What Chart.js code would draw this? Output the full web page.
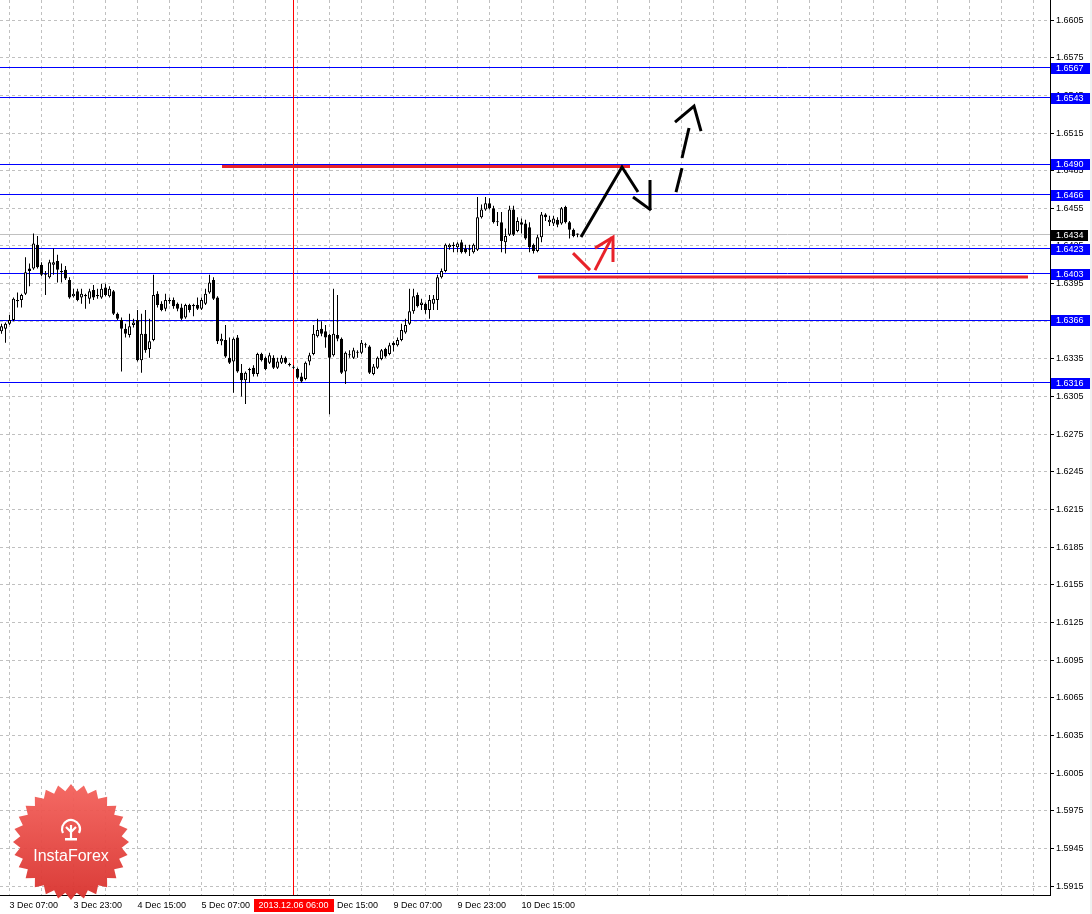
<!DOCTYPE html>
<html>
<head>
<meta charset="utf-8">
<script src="https://cdn.jsdelivr.net/npm/chart.js@4.4.1/dist/chart.umd.min.js"></script>
<style>
html,body{margin:0;padding:0;background:#fff;overflow:hidden;}
#wrap{width:1092px;height:914px;position:relative;}
</style>
</head>
<body>
<div id="wrap"><canvas id="c" width="1092" height="914"></canvas></div>
<script>
// ---- H1 candles, 3 Dec 2013 05:00 .. 11 Dec 2013 05:00 (bar index = array index) ----
const opens = [1.6357,1.6359,1.6363,1.6366,1.6381,1.6382,1.6387,1.6407,1.6407,1.6426,
1.6410,1.6403,1.6400,1.6410,1.6413,1.6405,1.6406,1.6398,1.6385,1.6389,
1.6384,1.6386,1.6383,1.6390,1.6386,1.6384,1.6392,1.6385,1.6389,1.6371,
1.6366,1.6359,1.6354,1.6362,1.6366,1.6334,1.6355,1.6343,1.6350,1.6387,
1.6379,1.6375,1.6382,1.6382,1.6379,1.6376,1.6368,1.6378,1.6378,1.6378,
1.6375,1.6379,1.6388,1.6398,1.6384,1.6349,1.6350,1.6336,1.6333,1.6352,
1.6324,1.6318,1.6327,1.6328,1.6323,1.6339,1.6336,1.6332,1.6336,1.6328,
1.6332,1.6336,1.6331,1.6328,1.6327,1.6321,1.6319,1.6333,1.6339,1.6353,
1.6359,1.6357,1.6354,1.6338,1.6354,1.6351,1.6325,1.6338,1.6336,1.6340,
1.6340,1.6346,1.6345,1.6323,1.6328,1.6335,1.6343,1.6339,1.6348,1.6346,
1.6350,1.6356,1.6363,1.6373,1.6386,1.6378,1.6379,1.6374,1.6379,1.6382,
1.6400,1.6405,1.6424,1.6426,1.6424,1.6428,1.6423,1.6422,1.6420,1.6422,
1.6448,1.6454,1.6459,1.6455,1.6444,1.6444,1.6428,1.6434,1.6454,1.6437,
1.6444,1.6443,1.6440,1.6426,1.6421,1.6432,1.6450,1.6444,1.6443,1.6446,
1.6443,1.6456,1.6444,1.6438,1.6435];
const highs = [1.6363,1.6364,1.6370,1.6384,1.6388,1.6387,1.6416,1.6411,1.6435,1.6433,
1.6412,1.6405,1.6414,1.6423,1.6418,1.6411,1.6409,1.6400,1.6391,1.6391,
1.6391,1.6387,1.6391,1.6394,1.6391,1.6395,1.6395,1.6393,1.6390,1.6372,
1.6368,1.6363,1.6371,1.6367,1.6374,1.6371,1.6374,1.6367,1.6402,1.6389,
1.6381,1.6387,1.6384,1.6384,1.6380,1.6379,1.6379,1.6379,1.6379,1.6384,
1.6384,1.6391,1.6402,1.6400,1.6385,1.6355,1.6362,1.6352,1.6352,1.6354,
1.6331,1.6325,1.6328,1.6330,1.6340,1.6340,1.6337,1.6340,1.6338,1.6336,
1.6338,1.6337,1.6332,1.6330,1.6328,1.6324,1.6333,1.6340,1.6362,1.6367,
1.6365,1.6362,1.6355,1.6391,1.6386,1.6352,1.6341,1.6342,1.6344,1.6342,
1.6350,1.6348,1.6346,1.6331,1.6337,1.6343,1.6344,1.6348,1.6349,1.6352,
1.6363,1.6367,1.6391,1.6391,1.6388,1.6383,1.6380,1.6386,1.6386,1.6402,
1.6407,1.6427,1.6427,1.6428,1.6428,1.6430,1.6426,1.6426,1.6427,1.6464,
1.6458,1.6464,1.6463,1.6457,1.6452,1.6452,1.6439,1.6457,1.6457,1.6448,
1.6447,1.6446,1.6444,1.6427,1.6434,1.6452,1.6451,1.6449,1.6449,1.6448,
1.6456,1.6457,1.6445,1.6439,1.6435];
const lows = [1.6355,1.6348,1.6362,1.6365,1.6376,1.6376,1.6386,1.6393,1.6406,1.6407,
1.6401,1.6386,1.6399,1.6402,1.6396,1.6396,1.6398,1.6383,1.6384,1.6381,
1.6379,1.6375,1.6379,1.6382,1.6383,1.6383,1.6385,1.6384,1.6370,1.6366,
1.6325,1.6352,1.6352,1.6360,1.6333,1.6324,1.6340,1.6336,1.6349,1.6376,
1.6373,1.6373,1.6379,1.6375,1.6373,1.6366,1.6367,1.6372,1.6369,1.6374,
1.6374,1.6378,1.6387,1.6382,1.6347,1.6346,1.6336,1.6331,1.6308,1.6324,
1.6305,1.6299,1.6316,1.6321,1.6321,1.6333,1.6326,1.6331,1.6327,1.6327,
1.6331,1.6331,1.6329,1.6327,1.6319,1.6316,1.6318,1.6330,1.6338,1.6352,
1.6353,1.6344,1.6291,1.6337,1.6349,1.6323,1.6315,1.6336,1.6335,1.6336,
1.6339,1.6344,1.6323,1.6322,1.6327,1.6334,1.6336,1.6338,1.6341,1.6345,
1.6349,1.6355,1.6362,1.6371,1.6376,1.6374,1.6371,1.6367,1.6374,1.6374,
1.6399,1.6404,1.6422,1.6420,1.6420,1.6419,1.6419,1.6417,1.6419,1.6421,
1.6447,1.6453,1.6454,1.6443,1.6441,1.6420,1.6419,1.6433,1.6433,1.6436,
1.6435,1.6430,1.6420,1.6419,1.6420,1.6428,1.6445,1.6441,1.6441,1.6440,
1.6442,1.6443,1.6431,1.6432,1.6432];
const closes = [1.6361,1.6363,1.6366,1.6383,1.6382,1.6386,1.6404,1.6405,1.6427,1.6408,
1.6402,1.6402,1.6412,1.6412,1.6406,1.6404,1.6399,1.6384,1.6387,1.6382,
1.6387,1.6385,1.6389,1.6384,1.6385,1.6391,1.6386,1.6391,1.6371,1.6367,
1.6359,1.6355,1.6361,1.6364,1.6334,1.6355,1.6342,1.6349,1.6386,1.6378,
1.6374,1.6382,1.6381,1.6377,1.6375,1.6367,1.6378,1.6374,1.6377,1.6375,
1.6382,1.6387,1.6396,1.6383,1.6349,1.6351,1.6337,1.6332,1.6351,1.6325,
1.6318,1.6324,1.6326,1.6323,1.6339,1.6334,1.6327,1.6338,1.6328,1.6333,
1.6336,1.6332,1.6330,1.6328,1.6320,1.6317,1.6332,1.6338,1.6355,1.6358,
1.6355,1.6352,1.6336,1.6355,1.6351,1.6324,1.6340,1.6338,1.6342,1.6340,
1.6348,1.6346,1.6324,1.6329,1.6336,1.6342,1.6337,1.6346,1.6346,1.6350,
1.6358,1.6362,1.6373,1.6385,1.6377,1.6380,1.6374,1.6382,1.6383,1.6400,
1.6405,1.6426,1.6426,1.6425,1.6427,1.6420,1.6420,1.6422,1.6426,1.6448,
1.6454,1.6459,1.6455,1.6444,1.6444,1.6429,1.6433,1.6454,1.6434,1.6445,
1.6442,1.6431,1.6424,1.6421,1.6432,1.6450,1.6448,1.6446,1.6447,1.6442,
1.6455,1.6444,1.6438,1.6433,1.6434];

// time axis: bar index of each label and its text
const timeTickBars = [2,18,34,50,66,82,98,114,130];
const timeTickLabels = ['3 Dec 07:00','3 Dec 23:00','4 Dec 15:00','5 Dec 07:00','5 Dec 23:00','6 Dec 15:00','9 Dec 07:00','9 Dec 23:00','10 Dec 15:00'];
const gridBarStep = 8;

// price axis ticks
const priceTicks = [1.6605,1.6575,1.6545,1.6515,1.6485,1.6455,1.6425,1.6395,1.6365,1.6335,1.6305,1.6275,
1.6245,1.6215,1.6185,1.6155,1.6125,1.6095,1.6065,1.6035,1.6005,1.5975,1.5945,1.5915];

// horizontal levels
const blueLevels = [1.6567,1.6543,1.6490,1.6466,1.6423,1.6403,1.6366,1.6316];
const bidPrice = 1.6434;
const cursorBar = 73;
const cursorLabel = '2013.12.06 06:00';

// drawn objects, in [bar index, price]
const redLevelLines = [
  [[55.125,1.64883],[157.125,1.64883]],
  [[134.125,1.64002],[256.625,1.64002]]
];
const blackArrow = [
  [[144.875,1.64321],[155.125,1.64879],[159.125,1.64680]],
  [[157.875,1.64640],[162.375,1.64536]],
  [[162.125,1.64775],[162.125,1.64536]],
  [[168.625,1.64680],[170.125,1.64871]],
  [[170.125,1.64951],[171.875,1.65190]],
  [[168.375,1.65237],[173.125,1.65365],[174.875,1.65166]]
];
const redArrow = [
  [[142.875,1.64193],[147.125,1.64058]],
  [[148.375,1.64058],[152.625,1.64321]],
  [[148.375,1.64233],[152.875,1.64321],[152.875,1.64122]]
];

const FONT = '"Liberation Sans", Arial, sans-serif';
Chart.defaults.font.family = FONT;
Chart.defaults.font.size = 9;
Chart.defaults.color = '#000';

const crisp = v => Math.round(v - 0.5) + 0.5;

function lineDs(seg, color, width, order) {
  return {
    type: 'line',
    data: seg.map(p => ({x: p[0], y: p[1]})),
    borderColor: color, borderWidth: width,
    pointRadius: 0, fill: false, tension: 0,
    borderCapStyle: 'butt', borderJoinStyle: 'miter',
    order: order
  };
}

const datasets = [
  {
    type: 'bar',
    data: lows.map((l, i) => ({x: i, y: [l, highs[i]]})),
    backgroundColor: '#000', borderWidth: 0, barThickness: 1,
    grouped: false, inflateAmount: 0, order: 5
  },
  {
    type: 'bar',
    data: opens.map((o, i) => ({x: i, y: [o, closes[i]]})),
    backgroundColor: opens.map((o, i) => closes[i] >= o ? '#ffffff' : '#000000'),
    borderColor: '#000', borderWidth: 1, borderSkipped: false,
    barThickness: 3, minBarLength: 1, grouped: false, inflateAmount: 0, order: 4
  }
];
redLevelLines.forEach(s => datasets.push(lineDs(s, '#e8222a', 3, 2)));
redArrow.forEach(s => datasets.push(lineDs(s, '#e8222a', 3, 1)));
blackArrow.forEach(s => datasets.push(lineDs(s, '#000000', 3, 0)));

function drawLogo(ctx, cx, cy) {
  const n = 28, R = 58, r = 51;
  ctx.save();
  ctx.beginPath();
  for (let k = 0; k < 2 * n; k++) {
    const a = k * Math.PI / n - Math.PI / 2;
    const rad = k % 2 ? r : R;
    const px = cx + rad * Math.cos(a), py = cy + rad * Math.sin(a);
    if (k === 0) ctx.moveTo(px, py); else ctx.lineTo(px, py);
  }
  ctx.closePath();
  const g = ctx.createLinearGradient(0, cy - R, 0, cy + R);
  g.addColorStop(0, '#f4625c');
  g.addColorStop(1, '#d8312d');
  ctx.fillStyle = g;
  ctx.globalAlpha = 0.95;
  ctx.fill();
  ctx.globalAlpha = 1;
  ctx.strokeStyle = '#fff'; ctx.fillStyle = '#fff'; ctx.lineWidth = 2.2;
  const ey = cy - 13;
  ctx.beginPath(); ctx.arc(cx, ey, 9, Math.PI * 0.85, Math.PI * 2.15); ctx.stroke();
  ctx.beginPath();
  ctx.moveTo(cx, ey - 4); ctx.lineTo(cx, ey + 10);
  ctx.moveTo(cx - 5, ey - 2); ctx.lineTo(cx, ey + 3); ctx.lineTo(cx + 5, ey - 2);
  ctx.stroke();
  ctx.fillRect(cx - 6, ey + 9, 12, 2.5);
  ctx.font = '16px ' + FONT;
  ctx.textAlign = 'center'; ctx.textBaseline = 'middle';
  ctx.fillText('InstaForex', cx, cy + 15);
  ctx.restore();
}

const mtPlugin = {
  id: 'mt',
  beforeDraw(chart) {
    const {ctx, width, height} = chart;
    ctx.save();
    ctx.fillStyle = '#ffffff';
    ctx.fillRect(0, 0, width, height);
    ctx.fillStyle = '#f0f0f0';
    ctx.fillRect(1090, 0, width - 1090, height);
    ctx.restore();
  },
  beforeDatasetsDraw(chart) {
    const {ctx, chartArea: a, scales: {x, y}} = chart;
    ctx.save();
    ctx.beginPath();
    ctx.rect(a.left, a.top, a.right - a.left, a.bottom - a.top);
    ctx.clip();
    ctx.lineWidth = 1;
    ctx.strokeStyle = '#c0c0c0';
    ctx.setLineDash([3, 3]);
    ctx.beginPath();
    for (let b = timeTickBars[0]; x.getPixelForValue(b) < a.right - 2; b += gridBarStep) {
      const X = crisp(x.getPixelForValue(b));
      ctx.moveTo(X, a.top); ctx.lineTo(X, a.bottom);
    }
    priceTicks.forEach(v => {
      const Y = crisp(y.getPixelForValue(v));
      ctx.moveTo(a.left, Y); ctx.lineTo(a.right, Y);
    });
    ctx.stroke();
    ctx.setLineDash([]);
    ctx.strokeStyle = '#c0c0c0';
    ctx.beginPath();
    let Y = crisp(y.getPixelForValue(bidPrice));
    ctx.moveTo(a.left, Y); ctx.lineTo(a.right, Y); ctx.stroke();
    ctx.strokeStyle = '#0000ff';
    ctx.beginPath();
    blueLevels.forEach(v => {
      const YY = crisp(y.getPixelForValue(v));
      ctx.moveTo(a.left, YY); ctx.lineTo(a.right, YY);
    });
    ctx.stroke();
    ctx.strokeStyle = '#ff0000';
    ctx.beginPath();
    const X = crisp(x.getPixelForValue(cursorBar));
    ctx.moveTo(X, a.top); ctx.lineTo(X, a.bottom); ctx.stroke();
    ctx.restore();
  },
  afterDraw(chart) {
    const {ctx, chartArea: a, scales: {x, y}} = chart;
    ctx.save();
    ctx.strokeStyle = '#000'; ctx.lineWidth = 1;
    ctx.beginPath();
    ctx.moveTo(a.right + 0.5, a.top); ctx.lineTo(a.right + 0.5, a.bottom + 1);
    ctx.moveTo(a.left, a.bottom + 0.5); ctx.lineTo(a.right + 1, a.bottom + 0.5);
    priceTicks.forEach(v => {
      const Y = crisp(y.getPixelForValue(v));
      ctx.moveTo(a.right + 1, Y); ctx.lineTo(a.right + 4, Y);
    });
    ctx.stroke();
    ctx.font = '9px ' + FONT;
    ctx.textBaseline = 'middle'; ctx.textAlign = 'left';
    const box = (v, color, w) => {
      const Y = Math.round(y.getPixelForValue(v));
      ctx.fillStyle = color;
      ctx.fillRect(a.right + 1, Y - 5, w, 11);
      ctx.fillStyle = '#fff';
      ctx.fillText(v.toFixed(4), a.right + 6, Y + 0.5);
    };
    blueLevels.forEach(v => box(v, '#0000ff', 39));
    box(bidPrice, '#000000', 37);
    const cx = x.getPixelForValue(cursorBar);
    ctx.fillStyle = '#ff0000';
    ctx.fillRect(Math.round(cx - 40), a.bottom + 4, 80, 13);
    ctx.fillStyle = '#fff';
    ctx.textAlign = 'center';
    ctx.fillText(cursorLabel, cx, a.bottom + 10.5);
    ctx.restore();
    drawLogo(ctx, 71, 842);
  }
};

new Chart(document.getElementById('c'), {
  type: 'bar',
  data: {datasets},
  options: {
    responsive: false,
    animation: false,
    events: [],
    layout: {padding: 0},
    plugins: {legend: {display: false}, tooltip: {enabled: false}},
    scales: {
      x: {
        type: 'linear', offset: false,
        min: -0.375, max: 262.125,
        grid: {display: false, drawTicks: false},
        border: {display: false},
        afterBuildTicks: ax => { ax.ticks = timeTickBars.map(v => ({value: v})); },
        afterFit: ax => { ax.height = 19; ax.paddingLeft = 0; ax.paddingRight = 0; },
        ticks: {
          autoSkip: false, maxRotation: 0, minRotation: 0, align: 'start', padding: 5,
          color: '#000', font: {size: 9},
          callback: (v, i) => timeTickLabels[i]
        }
      },
      y: {
        type: 'linear', position: 'right',
        min: 1.590786, max: 1.662101,
        grid: {display: false, drawTicks: false},
        border: {display: false},
        afterBuildTicks: ax => { ax.ticks = priceTicks.map(v => ({value: v})); },
        afterFit: ax => { ax.width = 42; ax.paddingTop = 0; ax.paddingBottom = 0; },
        ticks: {
          autoSkip: false, padding: 6, color: '#000', font: {size: 9},
          callback: v => Number(v).toFixed(4)
        }
      }
    }
  },
  plugins: [mtPlugin]
});
</script>
</body>
</html>
